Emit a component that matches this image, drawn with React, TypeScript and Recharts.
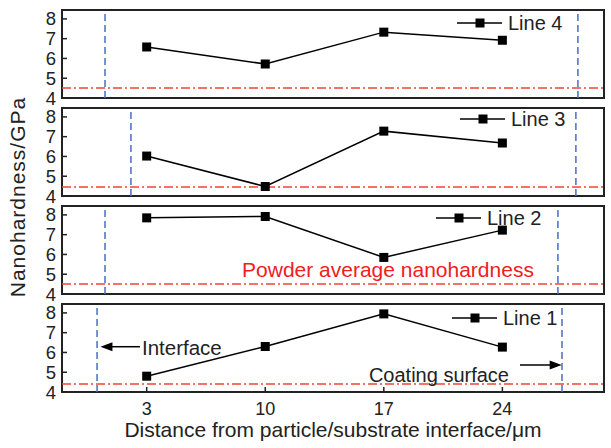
import React from 'react';
import { LineChart, Line, XAxis, YAxis, ReferenceLine, ReferenceDot, ReferenceArea, Legend } from 'recharts';

// distances from the interface (um)
const distances = [3, 10, 17, 24];
const xTicks = [3, 10, 17, 24];
const yTicks = [4, 5, 6, 7, 8];

// nanohardness (GPa)
const line1 = [4.8, 6.3, 7.95, 6.27];
const line2 = [7.85, 7.92, 5.85, 7.23];
const line3 = [6.02, 4.48, 7.28, 6.68];
const line4 = [6.58, 5.72, 7.33, 6.92];

// panels from top to bottom
const seriesNames = ['Line 4', 'Line 3', 'Line 2', 'Line 1'];
const seriesValues = [line4, line3, line2, line1];
const interfaceX = [0.54, 2.07, 0.54, 0.07];
const surfaceX = [28.46, 28.34, 27.28, 27.52];
const powderLevel = [4.5, 4.45, 4.5, 4.4];

const X_DOMAIN = [-2, 30];
const Y_DOMAIN = [4, 8.45];

const panelTop = [10, 108, 206, 304];
const legendPos = [
  { left: 457, top: 8 },
  { left: 460, top: 6 },
  { left: 436, top: 7 },
  { left: 452, top: 9 },
];

const INK = '#222';
const RED = '#f04434';
const BLUE = '#4a6cc6';

const Square = (props: any) => {
  const { cx, cy } = props;
  if (cx == null || cy == null) return null;
  return <rect x={cx - 4.5} y={cy - 4.5} width={9} height={9} fill="#000" />;
};

const LegendItem = ({ name }: { name: string }) => (
  <svg width={140} height={22} style={{ display: 'block' }}>
    <line x1={0} y1={11} x2={45} y2={11} stroke="#000" strokeWidth={1.5} />
    <rect x={18.5} y={6.5} width={9} height={9} fill="#000" />
    <text x={51} y={18} fontSize={20} fill={INK}>{name}</text>
  </svg>
);

const textAt = (label: string, color: string, size: number) => (p: any) => (
  <text x={p.cx} y={p.cy} fontSize={size} fill={color}>{label}</text>
);

const arrowHead = (dir: 1 | -1) => (p: any) => (
  <polygon
    points={`${p.cx},${p.cy} ${p.cx - dir * 12},${p.cy - 4.5} ${p.cx - dir * 12},${p.cy + 4.5}`}
    fill="#000"
  />
);

const Panel = ({ i }: { i: number }) => {
  const last = i === 3;
  const data = distances.map((x, j) => ({ x, v: seriesValues[i][j] }));
  const height = last ? 150 : 106;
  return (
    <div style={{ position: 'absolute', left: 0, top: panelTop[i] - 6 }}>
      <LineChart
        width={611}
        height={height}
        data={data}
        margin={{ top: 6, right: 7, bottom: last ? 16 : 11, left: 0 }}
      >
        <XAxis
          dataKey="x"
          type="number"
          domain={X_DOMAIN}
          ticks={xTicks}
          interval={0}
          allowDataOverflow
          height={last ? 40 : 1}
          tickSize={-5}
          tickMargin={15}
          tickLine={{ stroke: INK, strokeWidth: 1.5 }}
          axisLine={false}
          tick={last ? { fontSize: 18, fill: INK } : false}
          label={
            last
              ? {
                  value: 'Distance from particle/substrate interface/\u03bcm',
                  position: 'bottom',
                  offset: -10,
                  fontSize: 21,
                  fill: INK,
                }
              : undefined
          }
        />
        <YAxis
          type="number"
          domain={Y_DOMAIN}
          ticks={yTicks}
          interval={0}
          allowDataOverflow
          width={62}
          tickSize={-5}
          tickMargin={11}
          tickLine={{ stroke: INK, strokeWidth: 1.5 }}
          axisLine={false}
          tick={{ fontSize: 18.5, fill: INK }}
        />
        <ReferenceLine x={interfaceX[i]} stroke={BLUE} strokeWidth={1.5} strokeDasharray="7 4" />
        <ReferenceLine x={surfaceX[i]} stroke={BLUE} strokeWidth={1.5} strokeDasharray="7 4" />
        <ReferenceLine y={powderLevel[i]} stroke={RED} strokeWidth={1.5} strokeDasharray="9 3 2 3" />
        {i === 2 && (
          <ReferenceDot x={8.63} y={4.86} r={0} shape={textAt('Powder average nanohardness', '#f02020', 21)} />
        )}
        {last && (
          <>
            <ReferenceLine segment={[{ x: 2.6, y: 6.29 }, { x: 0.9, y: 6.29 }]} stroke="#000" strokeWidth={1.5} />
            <ReferenceDot x={0.27} y={6.29} r={0} shape={arrowHead(-1)} />
            <ReferenceDot x={2.72} y={5.87} r={0} shape={textAt('Interface', INK, 20.5)} />
            <ReferenceLine segment={[{ x: 25.04, y: 5.36 }, { x: 26.9, y: 5.36 }]} stroke="#000" strokeWidth={1.5} />
            <ReferenceDot x={27.5} y={5.36} r={0} shape={arrowHead(1)} />
            <ReferenceDot x={16.12} y={4.5} r={0} shape={textAt('Coating surface', INK, 20)} />
          </>
        )}
        <Line
          dataKey="v"
          name={seriesNames[i]}
          stroke="#000"
          strokeWidth={1.5}
          dot={<Square />}
          activeDot={false}
          isAnimationActive={false}
        />
        <ReferenceArea
          x1={X_DOMAIN[0]}
          x2={X_DOMAIN[1]}
          y1={Y_DOMAIN[0]}
          y2={Y_DOMAIN[1]}
          fill="none"
          fillOpacity={0}
          stroke={INK}
          strokeWidth={2}
        />
        <Legend
          layout="horizontal"
          verticalAlign="middle"
          align="center"
          content={() => <LegendItem name={seriesNames[i]} />}
          wrapperStyle={{ position: 'absolute', left: legendPos[i].left, top: legendPos[i].top, width: 140, height: 22 }}
        />
      </LineChart>
    </div>
  );
};

export default function App() {
  return (
    <div
      style={{
        position: 'absolute',
        left: 0,
        top: 0,
        width: 611,
        height: 448,
        background: '#fff',
        fontFamily: 'Arial, "Liberation Sans", sans-serif',
      }}
    >
      {[0, 1, 2, 3].map((i) => (
        <Panel key={i} i={i} />
      ))}
      <div
        style={{
          position: 'absolute',
          left: 18,
          top: 197,
          transform: 'translate(-50%, -50%) rotate(-90deg)',
          whiteSpace: 'nowrap',
          fontSize: 21,
          letterSpacing: 1,
          color: INK,
        }}
      >
        Nanohardness/GPa
      </div>
    </div>
  );
}
